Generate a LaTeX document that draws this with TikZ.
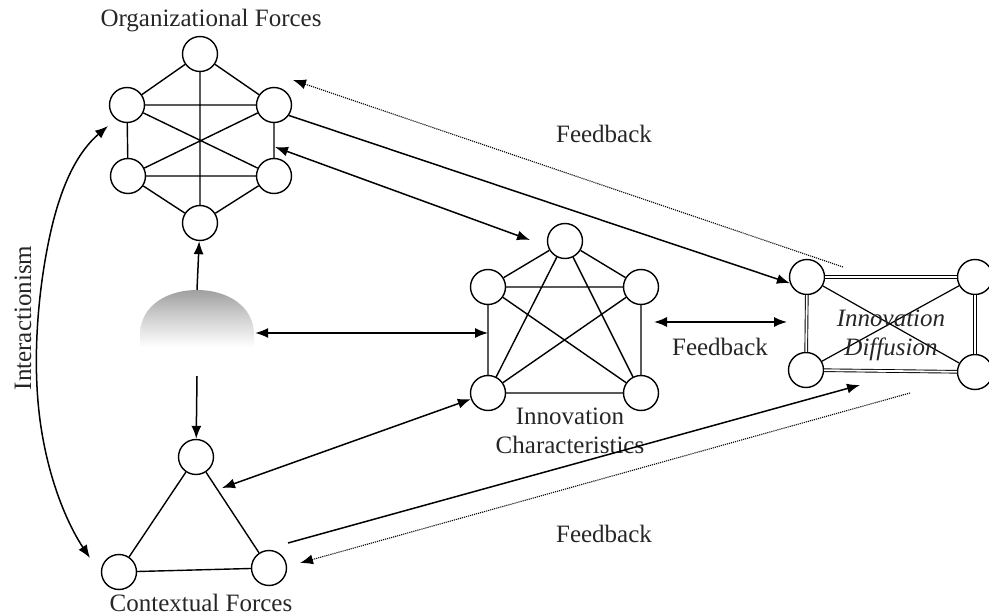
\documentclass[tikz,border=0pt]{standalone}
\usepackage{fontspec}
\setmainfont{Liberation Serif}
\usetikzlibrary{arrows.meta,calc}
\begin{document}
\begin{tikzpicture}[x=1pt,y=-1pt,
  vtx/.style={circle,draw,line width=1.4pt,minimum size=35pt,inner sep=0pt,fill=white},
  edge/.style={line width=1.4pt},
  dbl/.style={line width=0.9pt,double,double distance=1.8pt},
  tip/.tip={Latex[length=13pt,width=10pt]},
  link/.style={line width=1.5pt,-tip},
  biline/.style={line width=1.5pt,tip-tip},
  fbline/.style={line width=1.1pt,densely dotted,-tip},
  lbl/.style={font=\fontsize{25}{29}\selectfont,anchor=base,inner sep=0pt,text=black!85},
]
\path[use as bounding box] (0,0) rectangle (989,615);

% ---- Organizational forces (hexagon) ----
\node[vtx] (ht)  at (200,54)  {};
\node[vtx] (hul) at (127,105) {};
\node[vtx] (hur) at (274,105) {};
\node[vtx] (hll) at (128,176) {};
\node[vtx] (hlr) at (274,176) {};
\node[vtx] (hb)  at (200,223) {};
\draw[edge] (ht) -- (hul) (ht) -- (hur) (ht) -- (hb)
            (hul) -- (hur) (hul) -- (hll) (hur) -- (hlr)
            (hul) -- (hlr) (hll) -- (hur) (hll) -- (hlr)
            (hll) -- (hb) (hlr) -- (hb);
\node[lbl] (orglbl) at (211,27) {Organizational Forces};

% ---- Innovation characteristics (pentagon) ----
\node[vtx] (pt)  at (565,241) {};
\node[vtx] (pul) at (488,287) {};
\node[vtx] (pur) at (641,287) {};
\node[vtx] (pll) at (488,393) {};
\node[vtx] (plr) at (641,393) {};
\draw[edge] (pt) -- (pul) (pt) -- (pur) (pt) -- (pll) (pt) -- (plr)
            (pul) -- (pur) (pul) -- (pll) (pul) -- (plr)
            (pur) -- (pll) (pur) -- (plr) (pll) -- (plr);
\node[lbl] (iclbla) at (570,424) {Innovation};
\node[lbl] (iclblb) at (570,453) {Characteristics};

% ---- Innovation diffusion (rectangle) ----
\node[vtx] (dtl) at (807,277) {};
\node[vtx] (dtr) at (975,277) {};
\node[vtx] (dbl) at (806,370) {};
\node[vtx] (dbr) at (975,372) {};
\draw[dbl] (dtl) -- (dtr) (dtr) -- (dbr) (dbr) -- (dbl) (dbl) -- (dtl);
\draw[edge,line width=1.2pt] (dtl) -- (dbr) (dbl) -- (dtr);
\node[lbl,font=\fontsize{25}{29}\selectfont\itshape] (idlbla) at (891,326) {Innovation};
\node[lbl,font=\fontsize{25}{29}\selectfont\itshape] (idlblb) at (891,355) {Diffusion};

% ---- Contextual forces (triangle) ----
\node[vtx] (tt)  at (196,457) {};
\node[vtx] (tbl) at (119,572) {};
\node[vtx] (tbr) at (269,568) {};
\draw[edge] (tt) -- (tbl) (tt) -- (tbr) (tbl) -- (tbr);
\node[lbl] (ctxlbl) at (201,611) {Contextual Forces};

% ---- shaded dome in the centre of the left column ----
\shade[top color=gray!75, bottom color=white, middle color=gray!35]
  (140,347) -- (140,335) .. controls (140,305) and (168,290) .. (197,290)
  .. controls (226,290) and (254,305) .. (254,335) -- (254,347) -- cycle;
\node[minimum width=116pt,minimum height=86pt,inner sep=0pt] (blob) at (197,333) {};

% ---- free ends of connectors ----
\coordinate (icin)   at (530,240);
\coordinate (hxin)   at (275,147);
\coordinate (pdl)    at (654,322);
\coordinate (pdr)    at (787,322);
\coordinate (ctin)   at (222,488);
\coordinate (trout)  at (288,543);
\coordinate (drin)   at (860,385);
\coordinate (fbtA)   at (843,267);
\coordinate (fbtB)   at (293,80);
\coordinate (fbbA)   at (910,393);
\coordinate (fbbB)   at (300,563);
\coordinate (iaA)    at (108,126);
\coordinate (iaB)    at (90,558);

% ---- connectors ----
\draw[link] (blob.north) -- (hb);
\draw[link] (blob.south) -- (tt);
\draw[biline] (blob.east) -- (blob.east -| pul);
\draw[biline] (hxin) -- (icin);
\draw[link] (hur.-35) -- (dtl.200);
\draw[biline] (pdl) -- (pdr);
\draw[biline] (pll) -- (ctin);
\draw[link] (trout) -- (drin);
\draw[fbline] (fbtA) -- (fbtB);
\draw[fbline] (fbbA) -- (fbbB);
\draw[biline] (iaA) .. controls (80,150) and (62,180) .. (50,235)
  .. controls (38,290) and (32,360) .. (40,420)
  .. controls (48,480) and (68,525) .. (iaB);

% ---- labels ----
\node[lbl] (fbtop) at (604,143) {Feedback};
\node[lbl] (fbmid) at (720,355) {Feedback};
\node[lbl] (fbbot) at (604,542) {Feedback};
\node[lbl,rotate=90] (ialbl) at (31,318) {Interactionism};
\end{tikzpicture}
\end{document}
